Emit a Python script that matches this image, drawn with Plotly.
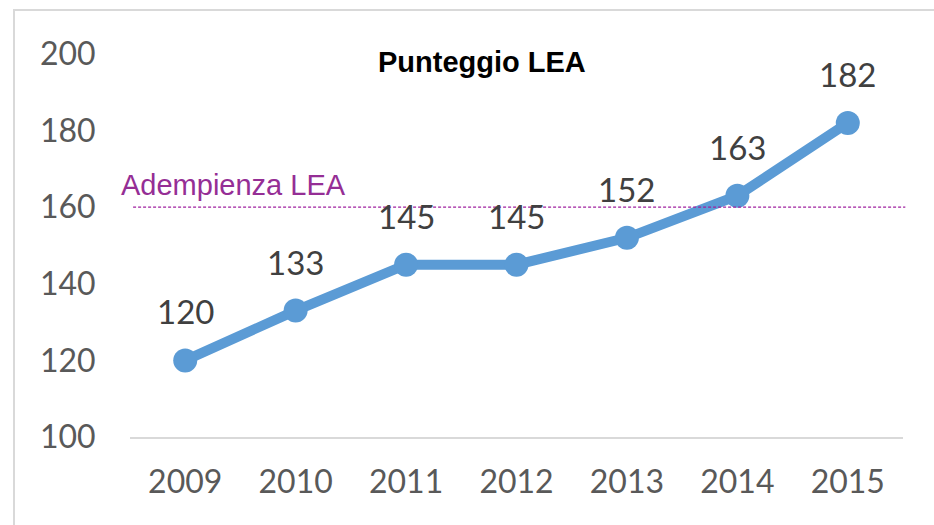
import plotly.graph_objects as go

years = ["2009", "2010", "2011", "2012", "2013", "2014", "2015"]
scores = [120, 133, 145, 145, 152, 163, 182]
threshold = 160
threshold_label = "Adempienza LEA"
title_text = "Punteggio LEA"
y_ticks = [100, 120, 140, 160, 180, 200]

W, H = 934, 525
L, R, T, B = 130, 31, 54, 88
pw, ph = W - L - R, H - T - B

def px(x):
    return (x - L) / pw

def py(y):
    return (H - B - y) / ph

fig = go.Figure()
fig.add_trace(go.Scatter(
    x=years, y=scores, mode="lines+markers",
    line=dict(color="#5B9BD5", width=10),
    marker=dict(color="#5B9BD5", size=24),
    hoverinfo="skip", showlegend=False,
))

annotations = []
for i, v in enumerate(scores):
    annotations.append(dict(
        x=i, y=v, xref="x", yref="y", text=str(v), showarrow=False,
        yshift=49, font=dict(family="Lato", size=33, color="#404040"),
        xanchor="center", yanchor="middle",
    ))
annotations.append(dict(
    x=px(482), y=py(62), xref="paper", yref="paper", text="<b>" + title_text + "</b>",
    showarrow=False, xanchor="center", yanchor="middle",
    font=dict(family="Liberation Sans", size=29, color="#000000"),
))
annotations.append(dict(
    x=px(119), y=threshold, xref="paper", yref="y", text=threshold_label,
    showarrow=False, xanchor="left", yanchor="middle", yshift=22,
    font=dict(family="Liberation Sans", size=29, color="#952E95"),
))

shapes = [
    dict(type="line", xref="paper", yref="y", x0=0.004, x1=1.003, y0=threshold, y1=threshold,
         line=dict(color="#A020A0", width=1.2, dash="3px,2px")),
    dict(type="rect", xref="paper", yref="paper", x0=px(14), x1=px(960), y0=py(10), y1=py(560),
         line=dict(color="#D9D9D9", width=2), fillcolor="rgba(0,0,0,0)", layer="below"),
]

fig.update_layout(
    width=W, height=H,
    margin=dict(l=L, r=R, t=T, b=B, pad=0),
    paper_bgcolor="white", plot_bgcolor="white",
    annotations=annotations, shapes=shapes,
    xaxis=dict(
        type="category", range=[-0.5, 6.5], showgrid=False, zeroline=False,
        showline=True, linecolor="#D9D9D9", linewidth=2,
        ticks="outside", ticklen=16, tickcolor="rgba(0,0,0,0)",
        tickfont=dict(family="Lato", size=32, color="#595959"),
        fixedrange=True,
    ),
    yaxis=dict(
        range=[100, 200], tickvals=y_ticks, showgrid=False, zeroline=False,
        showline=False, ticks="outside", ticklen=27, tickcolor="rgba(0,0,0,0)",
        tickfont=dict(family="Lato", size=32, color="#595959"),
        fixedrange=True,
    ),
)

fig.write_html("out.html", config={"displayModeBar": False},
               post_script="document.body.style.margin='0';document.body.style.overflow='hidden';")
